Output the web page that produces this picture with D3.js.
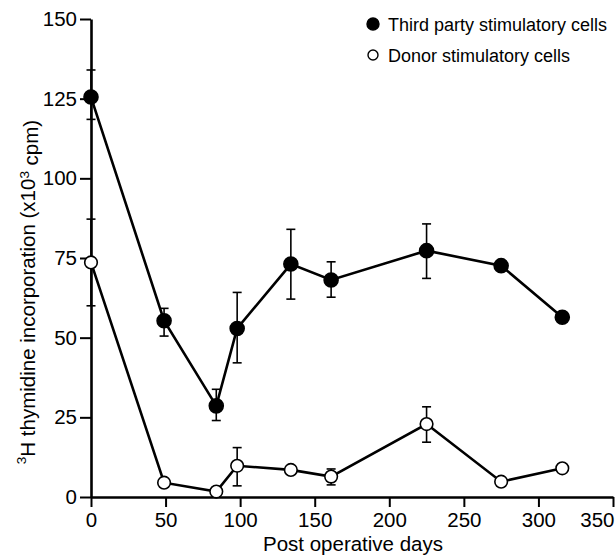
<!DOCTYPE html>
<html>
<head>
<meta charset="utf-8">
<script src="https://cdn.jsdelivr.net/npm/d3@7"></script>
<style>
  html, body { margin: 0; padding: 0; background: #fff; }
  svg { display: block; font-family: "Liberation Sans", Arial, sans-serif; }
</style>
</head>
<body>
<svg id="chart" width="616" height="556"></svg>
<script>
// Data
const days = [0, 49, 84, 98, 134, 161, 225, 275, 316];
const thirdParty = [125.5, 55.3, 28.6, 52.9, 73.1, 68.1, 77.3, 72.6, 56.4];
const thirdLow = [118.5, 50.5, 24, 42.1, 62.1, 62.7, 68.6, null, null];
const thirdHigh = [134, 59.2, 33.8, 64.2, 84, 73.8, 85.7, null, null];
const donor = [73.6, 4.5, 1.7, 9.8, 8.5, 6.4, 22.9, 4.8, 9];
const donorLow = [60, null, null, 3.5, null, 3.8, 17.2, null, null];
const donorHigh = [87.2, null, null, 15.5, null, 8.8, 28.3, null, null];
const xTicks = [0, 50, 100, 150, 200, 250, 300, 350];
const yTicks = [0, 25, 50, 75, 100, 125, 150];
const seriesNames = ["Third party stimulatory cells", "Donor stimulatory cells"];

const svg = d3.select("#chart");
const x = d3.scaleLinear().domain([0, 350]).range([91, 613]);
const y = d3.scaleLinear().domain([0, 150]).range([497, 19]);

// Axes
const xAxis = svg.append("g")
    .attr("transform", `translate(0,${y(0)})`)
    .call(d3.axisBottom(x).tickValues(xTicks).tickSize(10).tickPadding(5).tickSizeOuter(0));
const yAxis = svg.append("g")
    .attr("transform", `translate(${x(0)},0)`)
    .call(d3.axisLeft(y).tickValues(yTicks).tickSize(11).tickPadding(3).tickSizeOuter(0));

[xAxis, yAxis].forEach(a => {
    a.select(".domain").attr("stroke", "#000").attr("stroke-width", 2.6);
    a.selectAll(".tick line").attr("stroke", "#000").attr("stroke-width", 2);
    a.selectAll(".tick text").attr("fill", "#000").style("font-size", "20.5px");
});
// last x label sits left of its tick so it stays inside the frame
xAxis.selectAll(".tick text")
    .filter(d => d === 350)
    .attr("text-anchor", "end")
    .attr("x", 1);

// Axis titles
svg.append("text")
    .attr("x", 353).attr("y", 551)
    .attr("text-anchor", "middle")
    .style("font-size", "20.5px")
    .text("Post operative days");

const yTitle = svg.append("text")
    .attr("transform", "translate(32,292) rotate(-90)")
    .attr("text-anchor", "middle")
    .style("font-size", "20.5px");
yTitle.append("tspan").attr("dy", "-0.45em").style("font-size", "13.5px").text("3");
yTitle.append("tspan").attr("dy", "0.45em").text("H thymidine incorporation (x10");
yTitle.append("tspan").attr("dy", "-0.45em").style("font-size", "13.5px").text("3");
yTitle.append("tspan").attr("dy", "0.45em").text(" cpm)");

// Series
const series = [
    { values: thirdParty, low: thirdLow, high: thirdHigh, fill: "#000", r: 7 },
    { values: donor, low: donorLow, high: donorHigh, fill: "#fff", r: 6.3 }
];

const line = d3.line().x(d => x(d.day)).y(d => y(d.v));

series.forEach(s => {
    const pts = days.map((d, i) => ({ day: d, v: s.values[i], lo: s.low[i], hi: s.high[i] }));
    const g = svg.append("g");

    // error bars
    const eb = g.selectAll("g.err")
        .data(pts.filter(p => p.lo != null))
        .join("g").attr("class", "err")
        .attr("stroke", "#000").attr("stroke-width", 1.6);
    eb.append("line")
        .attr("x1", p => x(p.day)).attr("x2", p => x(p.day))
        .attr("y1", p => y(p.lo)).attr("y2", p => y(p.hi));
    eb.append("line")
        .attr("x1", p => x(p.day) - 4.5).attr("x2", p => x(p.day) + 4.5)
        .attr("y1", p => y(p.hi)).attr("y2", p => y(p.hi));
    eb.append("line")
        .attr("x1", p => x(p.day) - 4.5).attr("x2", p => x(p.day) + 4.5)
        .attr("y1", p => y(p.lo)).attr("y2", p => y(p.lo));

    g.append("path")
        .datum(pts)
        .attr("fill", "none")
        .attr("stroke", "#000")
        .attr("stroke-width", 2.6)
        .attr("d", line);

    g.selectAll("circle")
        .data(pts)
        .join("circle")
        .attr("cx", p => x(p.day))
        .attr("cy", p => y(p.v))
        .attr("r", s.r)
        .attr("fill", s.fill)
        .attr("stroke", "#000")
        .attr("stroke-width", 1.6);
});

// Legend
const legend = svg.append("g").attr("transform", "translate(373,24)");
seriesNames.forEach((name, i) => {
    const row = legend.append("g").attr("transform", `translate(0,${i * 31})`);
    row.append("circle")
        .attr("r", i === 0 ? 6 : 5)
        .attr("fill", i === 0 ? "#000" : "#fff")
        .attr("stroke", "#000")
        .attr("stroke-width", 1.4);
    row.append("text")
        .attr("x", 15).attr("y", 6.5)
        .style("font-size", "18px")
        .text(name);
});
</script>
</body>
</html>
